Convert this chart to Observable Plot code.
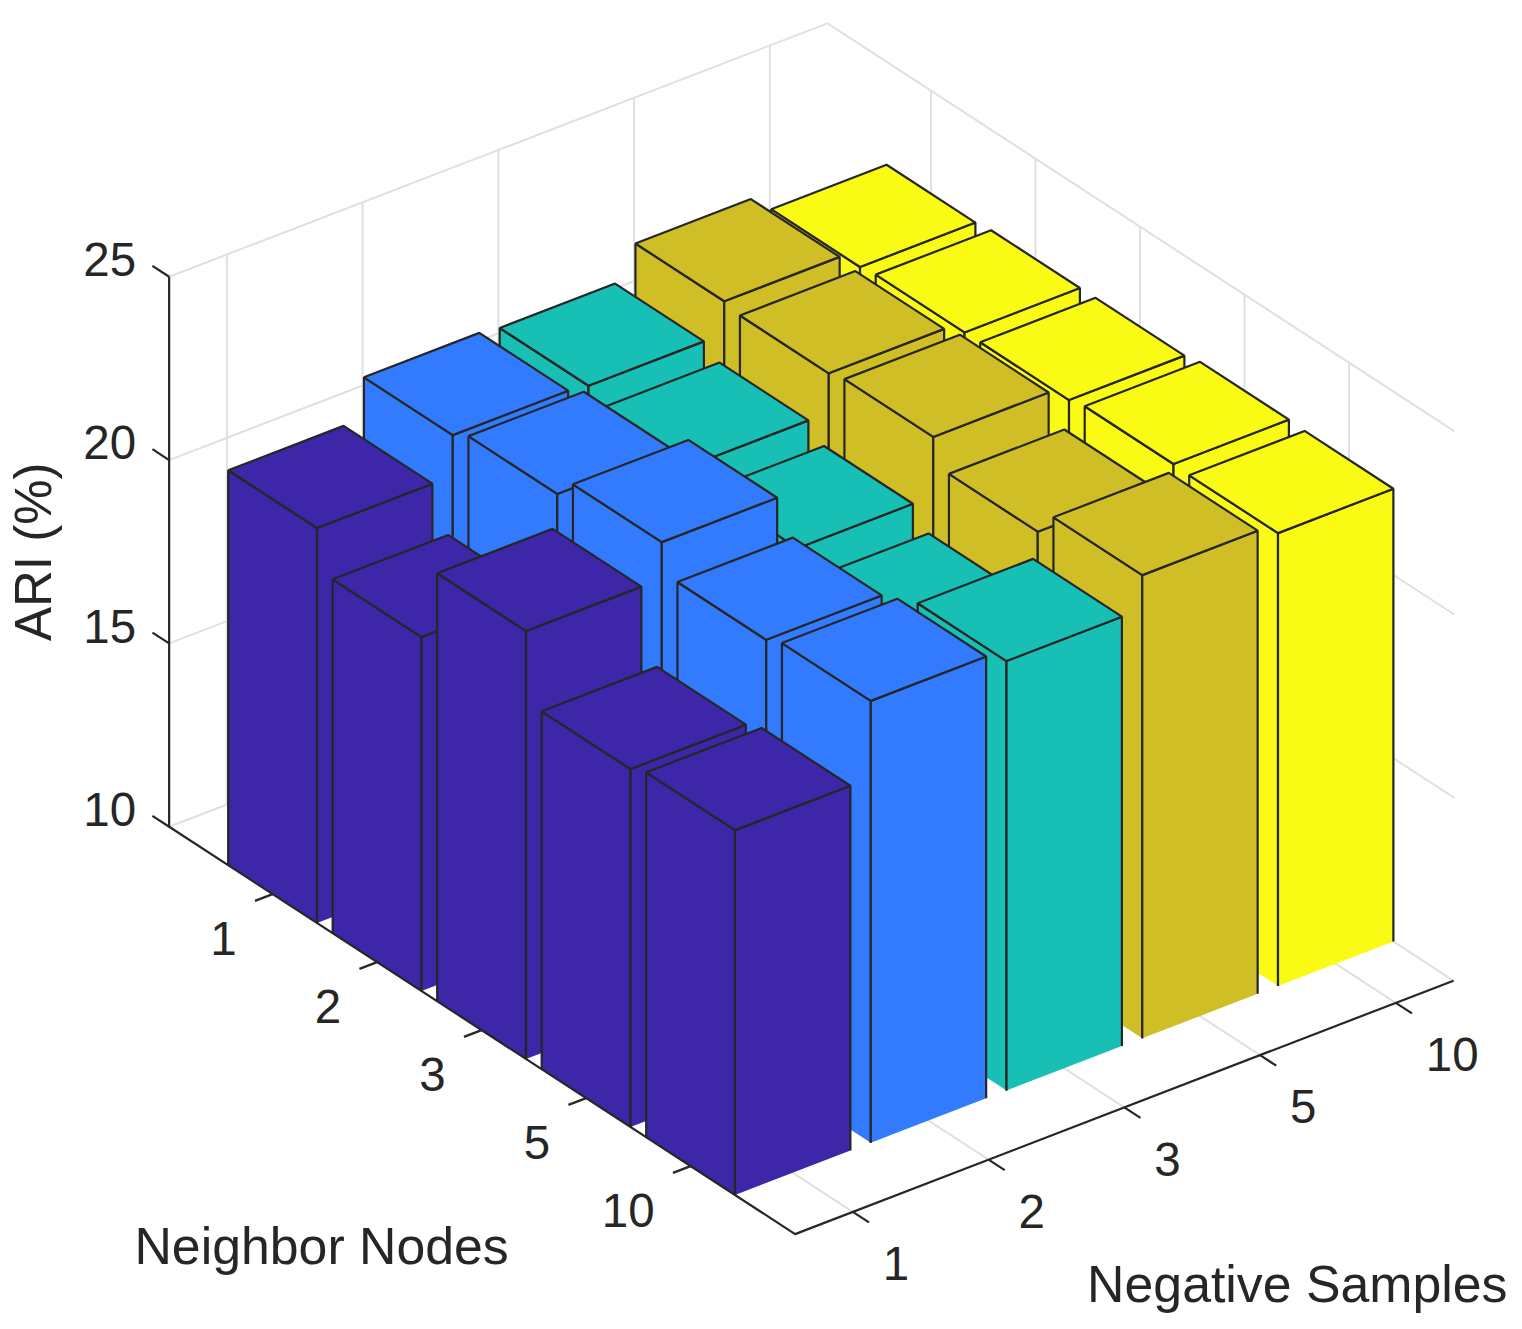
<!DOCTYPE html>
<html>
<head>
<meta charset="utf-8">
<script src="https://cdn.jsdelivr.net/npm/d3@7"></script>
<script src="https://cdn.jsdelivr.net/npm/@observablehq/plot@0.6"></script>
<style>html,body{margin:0;padding:0;background:#fff}svg{display:block}</style>
</head>
<body>
<div id="chart"></div>
<script>
const neighborNodes = ["1", "2", "3", "5", "10"];
const negativeSamples = ["1", "2", "3", "5", "10"];
const ariTicks = [10, 15, 20, 25];
const ariNeg1 = [20.77, 19.65, 21.67, 19.76, 19.95];
const ariNeg2 = [21.88, 22.13, 22.67, 21.86, 22.05];
const ariNeg3 = [21.8, 21.5, 21.08, 20.55, 21.71];
const ariNeg5 = [22.68, 22.57, 22.69, 21.96, 22.63];
const ariNeg10 = [22.19, 22.26, 22.27, 22.38, 22.35];
const series = [ariNeg1, ariNeg2, ariNeg3, ariNeg5, ariNeg10];
const parula = ["#3d26a8", "#327bff", "#18bfb5", "#cfbe25", "#f9fb15"];

// Oblique view of the 3D box (u = neighbor index, v = negative index, z = ARI)
const W = 1522, H = 1329;
const uMin = -0.99, uMax = 5, vMin = -0.425, vMax = 4.425, zMin = 10, zMax = 25, half = 0.425;
const px = ([u, v]) => 794.6 + (u - uMax) * 104.5 + (v - vMin) * 135.75;
const py = ([u, v, z]) => 1233.6 + (u - uMax) * 68 - (v - vMin) * 52.25 - (z - zMin) * 36.67;

const polylines = (paths) => paths.flatMap((p, id) => p.pts.map(pt => ({id, p: pt, ...p})));

// grid
const idx = d3.range(5);
const gridPaths = [
  ...ariTicks.map(z => ({pts: [[uMin, vMin, z], [uMin, vMax, z], [uMax, vMax, z]]})),
  ...idx.map(v => ({pts: [[uMax, v, zMin], [uMin, v, zMin], [uMin, v, zMax]]})),
  ...idx.map(u => ({pts: [[u, vMin, zMin], [u, vMax, zMin], [u, vMax, zMax]]}))
];

// axes and ticks
const axisPaths = [
  {pts: [[uMin, vMin, zMax], [uMin, vMin, zMin], [uMax, vMin, zMin], [uMax, vMax, zMin]]},
  ...ariTicks.map(z => ({pts: [[uMin, vMin, z], [uMin - 0.16, vMin, z]]})),
  ...idx.map(u => ({pts: [[u, vMin, zMin], [u, vMin - 0.13, zMin]]})),
  ...idx.map(v => ({pts: [[uMax, v, zMin], [uMax + 0.155, v, zMin]]}))
];

// bars, painted back to front
const faces = [];
for (const i of idx) {
  for (const j of [4, 3, 2, 1, 0]) {
    const z = series[j][i];
    const L = [i - half, j - half], F = [i + half, j - half], R = [i + half, j + half], B = [i - half, j + half];
    const neg = negativeSamples[j];
    faces.push({neg, pts: [[...L, zMin], [...L, z], [...F, z], [...F, zMin]]});
    faces.push({neg, pts: [[...F, zMin], [...F, z], [...R, z], [...R, zMin]]});
    faces.push({neg, pts: [[...L, z], [...B, z], [...R, z], [...F, z], [...L, z]]});
  }
}

const ink = "#262626";
const pos = {x: d => px(d.p), y: d => py(d.p), z: "id"};

const chart = Plot.plot({
  width: W, height: H,
  margin: 0,
  x: {axis: null, domain: [0, W], range: [0, W]},
  y: {axis: null, domain: [0, H], range: [0, H]},
  color: {type: "ordinal", domain: negativeSamples, range: parula},
  style: {fontFamily: "Liberation Sans, Arial, sans-serif", background: "#fff", color: ink},
  marks: [
    Plot.line(polylines(gridPaths), {...pos, stroke: "#e0e0e0", strokeWidth: 2}),
    Plot.line(polylines(faces), {...pos, fill: "neg", stroke: ink, strokeWidth: 2.2, strokeLinejoin: "miter", strokeLinecap: "butt"}),
    Plot.line(polylines(axisPaths), {...pos, stroke: ink, strokeWidth: 2.2, strokeLinecap: "butt"}),
    Plot.text(ariTicks, {x: z => px([uMin, vMin, z]), y: z => py([uMin, vMin, z]), text: String, textAnchor: "end", dx: -33, dy: -16, fontSize: 47.5, fill: ink}),
    Plot.text(neighborNodes, {x: (d, i) => px([i, vMin, zMin]), y: (d, i) => py([i, vMin, zMin]), text: String, textAnchor: "end", dx: -36, dy: 46, fontSize: 47.5, fill: ink}),
    Plot.text(negativeSamples, {x: (d, j) => px([uMax, j, zMin]), y: (d, j) => py([uMax, j, zMin]), text: String, textAnchor: "start", dx: 30, dy: 53, fontSize: 47.5, fill: ink}),
    Plot.text(["Neighbor Nodes"], {x: () => px([2, vMin]), y: () => py([2, vMin, zMin]), text: String, dx: -160, dy: 217, fontSize: 51.8, fill: ink}),
    Plot.text(["Negative Samples"], {x: () => px([uMax, 2]), y: () => py([uMax, 2, zMin]), text: String, dx: 173, dy: 178, fontSize: 51.8, fill: ink}),
    Plot.text(["ARI (%)"], {x: () => px([uMin, vMin]), y: () => py([uMin, vMin, 17.5]), text: String, dx: -134, rotate: -90, fontSize: 51, fill: ink})
  ]
});
document.getElementById("chart").appendChild(chart);
</script>
</body>
</html>
